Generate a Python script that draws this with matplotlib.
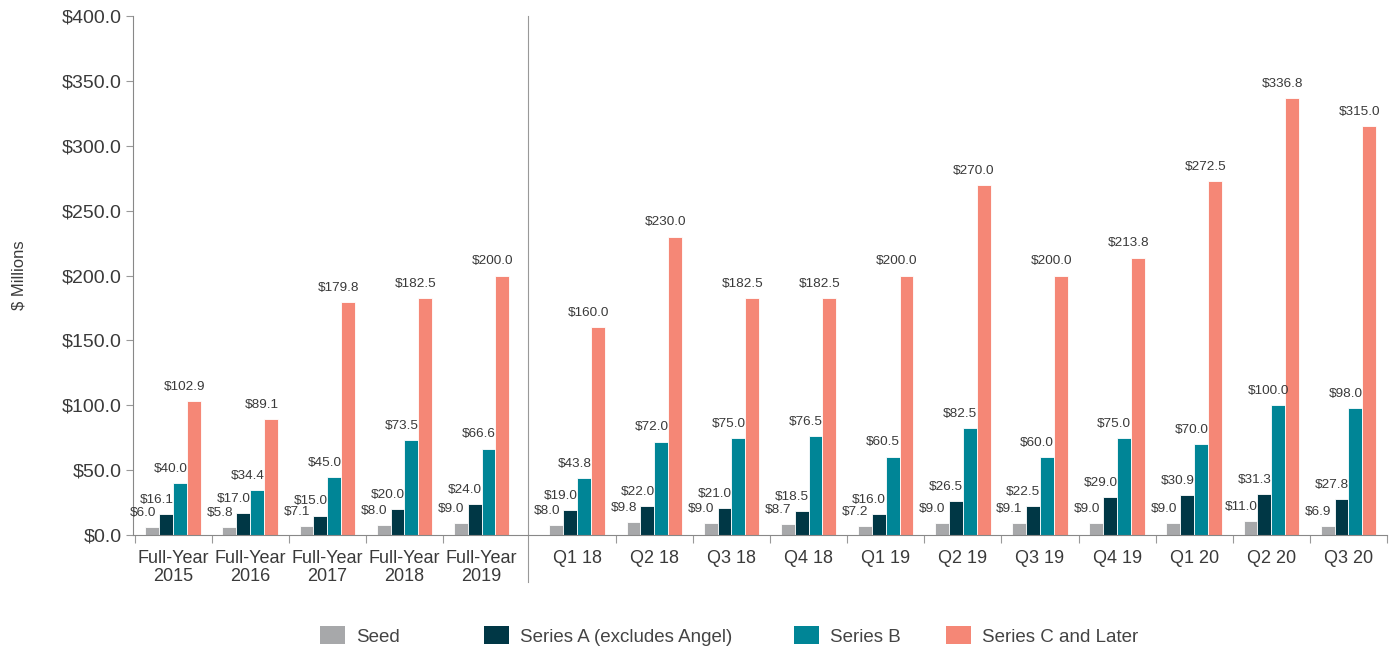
import matplotlib
matplotlib.use("Agg")
import matplotlib.pyplot as plt
import numpy as np
from matplotlib.patches import Patch

categories = ["Full-Year\n2015", "Full-Year\n2016", "Full-Year\n2017", "Full-Year\n2018", "Full-Year\n2019",
              "Q1 18", "Q2 18", "Q3 18", "Q4 18", "Q1 19", "Q2 19", "Q3 19", "Q4 19", "Q1 20", "Q2 20", "Q3 20"]
seed = [6.0, 5.8, 7.1, 8.0, 9.0, 8.0, 9.8, 9.0, 8.7, 7.2, 9.0, 9.1, 9.0, 9.0, 11.0, 6.9]
series_a = [16.1, 17.0, 15.0, 20.0, 24.0, 19.0, 22.0, 21.0, 18.5, 16.0, 26.5, 22.5, 29.0, 30.9, 31.3, 27.8]
series_b = [40.0, 34.4, 45.0, 73.5, 66.6, 43.8, 72.0, 75.0, 76.5, 60.5, 82.5, 60.0, 75.0, 70.0, 100.0, 98.0]
series_c = [102.9, 89.1, 179.8, 182.5, 200.0, 160.0, 230.0, 182.5, 182.5, 200.0, 270.0, 200.0, 213.8, 272.5, 336.8, 315.0]
series_names = ["Seed", "Series A (excludes Angel)", "Series B", "Series C and Later"]
colors = ["#a7a8aa", "#003745", "#008596", "#f58776"]
yticks = [0, 50, 100, 150, 200, 250, 300, 350, 400]

plt.rcParams["font.family"] = ["Liberation Sans", "DejaVu Sans"]
txt = "#3a3a3a"

fig = plt.figure(figsize=(13.91, 6.46), dpi=100)
ax = fig.add_axes([133 / 1391, 1 - 535 / 646, (1387 - 133) / 1391, (535 - 16) / 646])

n_full = 5
x = np.array([i if i < n_full else i + 0.24 for i in range(len(categories))], dtype=float)
w = 0.18
all_series = [seed, series_a, series_b, series_c]
for k, (vals, col, nm) in enumerate(zip(all_series, colors, series_names)):
    xs = x + (k - 1.5) * w
    ax.bar(xs, vals, width=w, color=col, edgecolor="white", linewidth=0.6, label=nm, zorder=2)
    for xi, v in zip(xs, vals):
        ax.annotate(f"${v:.1f}", (xi, v), xytext=(-7, 8), textcoords="offset points",
                    ha="center", va="baseline", fontsize=9.7, color=txt)

ax.set_xlim(-0.52, x[-1] + 0.5)
ax.set_ylim(0, 400)
ax.set_yticks(yticks)
ax.set_yticklabels([f"${t:.1f}" for t in yticks], fontsize=14, color=txt)
ax.set_xticks(x)
ax.set_xticklabels(categories, fontsize=13, color=txt, linespacing=1.05)
bounds = [-0.5, 0.5, 1.5, 2.5, 3.5] + [x[i] + 0.5 for i in range(n_full, len(categories))]
ax.set_xticks(bounds, minor=True)
ax.tick_params(axis="x", which="major", length=0, pad=11)
ax.tick_params(axis="x", which="minor", length=6, color="#999999", width=0.8)
ax.tick_params(axis="y", length=5, color="#999999", width=0.8, pad=3)

for s in ["top", "right"]:
    ax.spines[s].set_visible(False)
for s in ["left", "bottom"]:
    ax.spines[s].set_color("#888888")
    ax.spines[s].set_linewidth(0.8)

sep = (n_full - 1 + x[n_full]) / 2 - 0.02
ax.plot([sep, sep], [-0.09, 1.0], transform=ax.get_xaxis_transform(), color="#999999",
        linewidth=0.8, clip_on=False)

ax.set_ylabel("$ Millions", fontsize=12, color=txt)
ax.yaxis.set_label_coords(-0.085, 0.5)

fs = 13.5
fpx = fs * 100 / 72
leg_left = [320, 484, 794, 946]
for nm, col, lx in zip(series_names, colors, leg_left):
    leg = fig.legend(handles=[Patch(facecolor=col, edgecolor="none")], labels=[nm],
                     loc="center left", bbox_to_anchor=(lx / 1391, 1 - 636 / 646),
                     frameon=False, fontsize=fs, handlelength=25 / fpx, handleheight=20 / fpx,
                     handletextpad=11 / fpx, borderpad=0, borderaxespad=0, labelcolor="#444444")

fig.savefig("out.png", dpi=100)
